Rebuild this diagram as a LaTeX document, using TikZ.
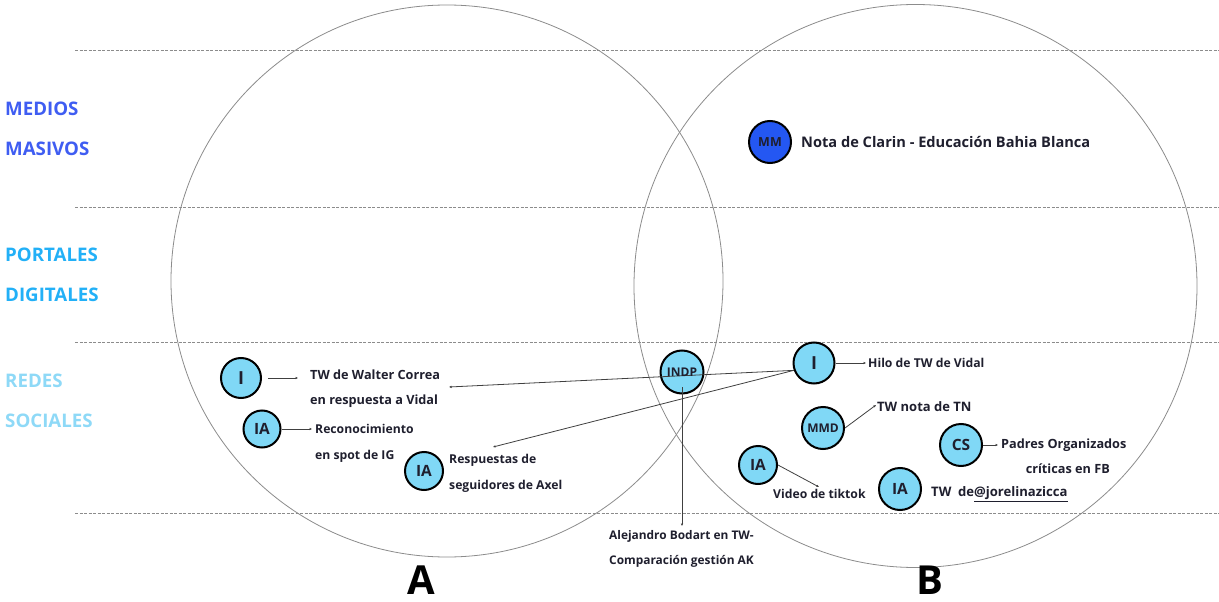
\documentclass[tikz,border=0pt]{standalone}
\usepackage{fontspec}
\setmainfont{Open Sans}
\usetikzlibrary{arrows.meta}
\definecolor{nodefill}{HTML}{80D8F6}
\definecolor{mmfill}{HTML}{2457F2}
\definecolor{medios}{HTML}{3F5DF2}
\definecolor{portales}{HTML}{22B0F7}
\definecolor{redes}{HTML}{8ED9F7}
\definecolor{txt}{HTML}{1F1F2E}
\begin{document}
\begin{tikzpicture}[x=1pt,y=-1pt,
  venn/.style={draw=black!45, line width=0.8pt},
  band/.style={draw=black!45, dash pattern=on 3pt off 1.5pt, line width=0.9pt},
  cat/.style={anchor=west, inner sep=0pt, align=left, font=\bfseries\fontsize{18.7}{40}\selectfont},
  bub/.style={circle, draw=black, line width=2pt, fill=nodefill, inner sep=0pt, text=txt},
  lab/.style={anchor=west, inner sep=0pt, align=left, text=txt, font=\bfseries\fontsize{12.7}{25}\selectfont},
  slab/.style={anchor=west, inner sep=0pt, align=left, text=txt, font=\bfseries\fontsize{12.2}{25.5}\selectfont},
  conn/.style={draw=black!75, line width=0.8pt, -{Latex[length=2.5pt,width=2.5pt]}},
  big/.style={font=\bfseries\fontsize{40}{40}\selectfont, text=black}
]
\useasboundingbox (0,0) rectangle (1219,602);
\fill[white] (0,0) rectangle (1219,602);

% Venn circles
\draw[venn] (447,281) circle[radius=276];
\draw[venn] (915.5,286) circle[radius=281.5];

% bands
\draw[band] (75,50) -- (1219,50);
\draw[band] (75,207) -- (1219,207);
\draw[band] (75,342) -- (1219,342);
\draw[band] (75,513) -- (1219,513);

% category labels
\node[cat, text=medios] (medios) at (5,129) {MEDIOS\\MASIVOS};
\node[cat, text=portales] (portales) at (5,274.5) {PORTALES\\DIGITALES};
\node[cat, text=redes] (redes) at (5,400.5) {REDES\\SOCIALES};

% bubbles
\node[bub, fill=mmfill, minimum size=42pt, font=\bfseries\fontsize{12.5}{12.5}\selectfont] (MM) at (770,142) {MM};
\node[bub, minimum size=40pt, font=\bfseries\fontsize{18}{18}\selectfont] (Ileft) at (241,378) {I};
\node[bub, minimum size=37pt, font=\bfseries\fontsize{15.5}{15.5}\selectfont] (IAleft) at (262,429) {IA};
\node[bub, minimum size=38pt, font=\bfseries\fontsize{15.5}{15.5}\selectfont] (IAmid) at (424,471) {IA};
\node[bub, minimum size=43pt] (INDP) at (682,372) {};
\node[bub, minimum size=41pt, font=\bfseries\fontsize{18}{18}\selectfont] (Iright) at (814,363) {I};
\node[bub, minimum size=42pt, font=\bfseries\fontsize{12}{12}\selectfont] (MMD) at (823,428) {\raisebox{-3pt}{MMD}};
\node[bub, minimum size=38pt, font=\bfseries\fontsize{15.5}{15.5}\selectfont] (IAtik) at (758,465) {IA};
\node[bub, minimum size=42pt, font=\bfseries\fontsize{15.5}{15.5}\selectfont] (CS) at (961,445) {CS};
\node[bub, minimum size=42pt, font=\bfseries\fontsize{15.5}{15.5}\selectfont] (IAjor) at (900,489) {IA};

% texts
\node[anchor=west, inner sep=0pt, text=txt, font=\bfseries\fontsize{14.6}{14.6}\selectfont] (clarin) at (801,142) {Nota de Clarin - Educación Bahia Blanca};
\node[lab] (walter) at (310,388.5) {TW de Walter Correa\\en respuesta a Vidal};
\node[slab] (recon) at (315,443.5) {Reconocimiento\\en spot de IG};
\node[slab] (resp) at (449,473.5) {Respuestas de\\seguidores de Axel};
\node[slab] (hilo) at (868,363) {Hilo de TW de Vidal};
\node[lab, font=\bfseries\fontsize{13}{25}\selectfont] (tn) at (877,407) {TW nota de TN};
\node[lab, align=center] (padres) at (1001,456) {Padres Organizados\\\hspace*{8pt}críticas en FB};
\node[slab] (tiktok) at (773,494) {Video de tiktok};
\node[lab, font=\bfseries\fontsize{13.1}{25}\selectfont] (jore) at (931,494) {TW\enspace de\underline{@jorelinazicca}};
\node[slab, font=\bfseries\fontsize{11.9}{25}\selectfont] (bodart) at (609,548.5) {Alejandro Bodart en TW-\\Comparación gestión AK};

\node[big] (A) at (421,580) {A};
\node[big] (B) at (930,580) {B};

% named end points
\coordinate (iend) at (298,378);
\coordinate (iaend) at (312,429);
\coordinate (wend) at (449,387);
\coordinate (rend) at (493,447);
\coordinate (bend) at (682,526);
\coordinate (hend) at (866,363);
\coordinate (tnend) at (876,405);
\coordinate (csend) at (998,445);
\coordinate (tkend) at (819,487);

% connectors
\draw[conn, shorten <=6pt] (Ileft.east) -- (iend);
\draw[conn] (IAleft.east) -- (iaend);
\draw[conn] (Iright.200) -- (wend);
\draw[conn] (Iright.200) -- (rend);
\draw[conn, shorten <=15pt] (INDP.center) -- (bend);
\draw[conn] (Iright.east) -- (hend);
\draw[conn] (MMD.east) -- (tnend);
\draw[conn] (CS.east) -- (csend);
\draw[conn] (IAtik.east) -- (tkend);

% INDP label drawn over the crossing line
\node[text=txt, font=\bfseries\fontsize{12}{12}\selectfont, inner sep=0pt] (indplab) at (INDP.center) {INDP};
\end{tikzpicture}
\end{document}
